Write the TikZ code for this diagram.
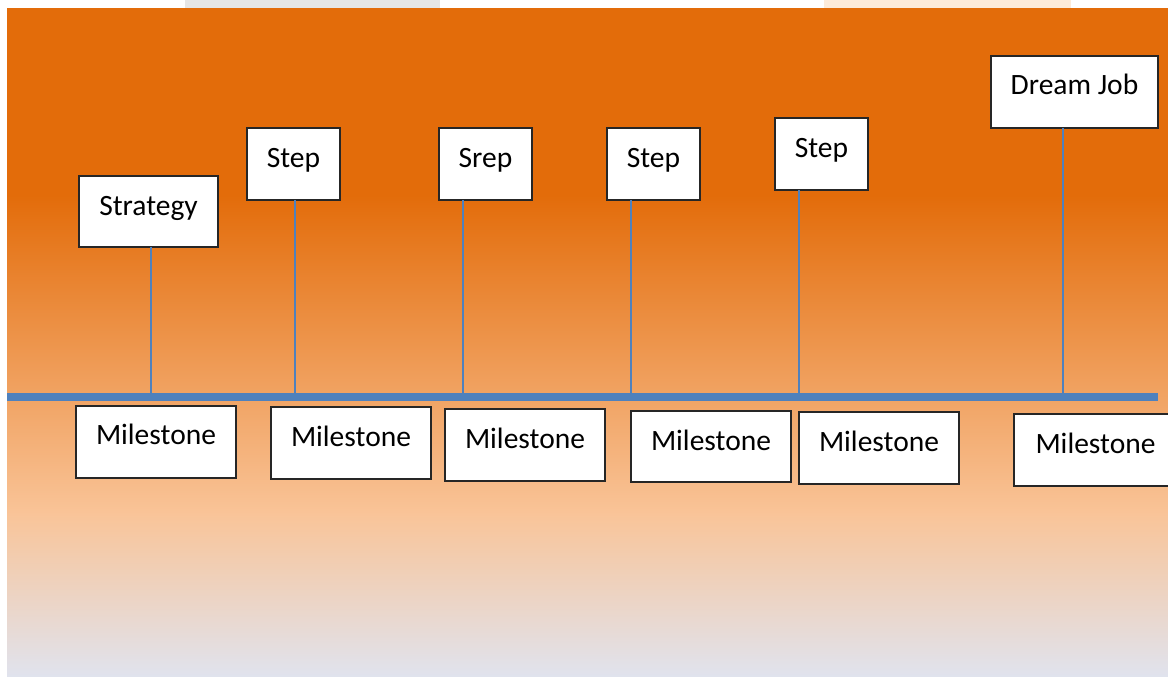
\documentclass[tikz,border=0pt]{standalone}
\usepackage{fontspec}
\setmainfont{Carlito}
\definecolor{org}{HTML}{E36C0A}
\definecolor{peach}{HTML}{F9C498}
\definecolor{lav}{HTML}{E0E3EE}
\definecolor{barblue}{HTML}{4F81BD}
\definecolor{stripgray}{HTML}{E6E6E6}
\definecolor{strippeach}{HTML}{FDEBD9}
\begin{document}
\begin{tikzpicture}[x=1pt,y=-1pt,
  card/.style={draw=black!85, line width=1.2pt, fill=white, inner xsep=0pt, inner ysep=0pt,
    outer sep=0pt, anchor=north west, font=\fontsize{29.5}{31}\selectfont,
    text height=39pt, text depth=33pt},
  stem/.style={draw=barblue, line width=2pt},
  bar/.style={draw=barblue, line width=8pt}
]
\useasboundingbox (0,0) rectangle (1168,677);
\clip (0,0) rectangle (1168,677);
% background
\fill[white] (0,0) rectangle (1168,677);
\fill[stripgray] (185,0) rectangle (440,8);
\fill[strippeach] (824,0) rectangle (1071,8);
\fill[org] (7,8) rectangle (1168,196);
\shade[top color=org, bottom color=peach] (7,195) rectangle (1168,514);
\shade[top color=peach, bottom color=lav] (7,513) rectangle (1168,677);

% upper cards
\node[card, minimum width=139pt, text depth=32pt] (s1) at (79,176) {Strategy};
\node[card, minimum width=93pt] (s2) at (247,128) {Step};
\node[card, minimum width=93pt] (s3) at (439,128) {Srep};
\node[card, minimum width=93pt] (s4) at (607,128) {Step};
\node[card, minimum width=93pt] (s5) at (775,118) {Step};
\node[card, minimum width=167pt] (s6) at (991,56) {Dream Job};

% bar anchor points
\coordinate (b1) at (151,397);
\coordinate (b2) at (295,397);
\coordinate (b3) at (463,397);
\coordinate (b4) at (631,397);
\coordinate (b5) at (799,397);
\coordinate (b6) at (1063,397);
\coordinate (barL) at (7,397);
\coordinate (barR) at (1158,397);

\draw[stem] (s1.south -| b1) -- (b1);
\draw[stem] (s2.south -| b2) -- (b2);
\draw[stem] (s3.south -| b3) -- (b3);
\draw[stem] (s4.south -| b4) -- (b4);
\draw[stem] (s5.south -| b5) -- (b5);
\draw[stem] (s6.south -| b6) -- (b6);
\draw[bar] (barL) -- (barR);

% milestones
\node[card, minimum width=160pt, text height=38pt, text depth=34pt] (m1) at (76,406) {Milestone};
\node[card, minimum width=160pt] (m2) at (271,407) {Milestone};
\node[card, minimum width=160pt] (m3) at (445,409) {Milestone};
\node[card, minimum width=160pt, text depth=32pt] (m4) at (631,411) {Milestone};
\node[card, minimum width=160pt] (m5) at (799,412) {Milestone};
\node[card, minimum width=163pt] (m6) at (1014,414) {Milestone};
\end{tikzpicture}
\end{document}
